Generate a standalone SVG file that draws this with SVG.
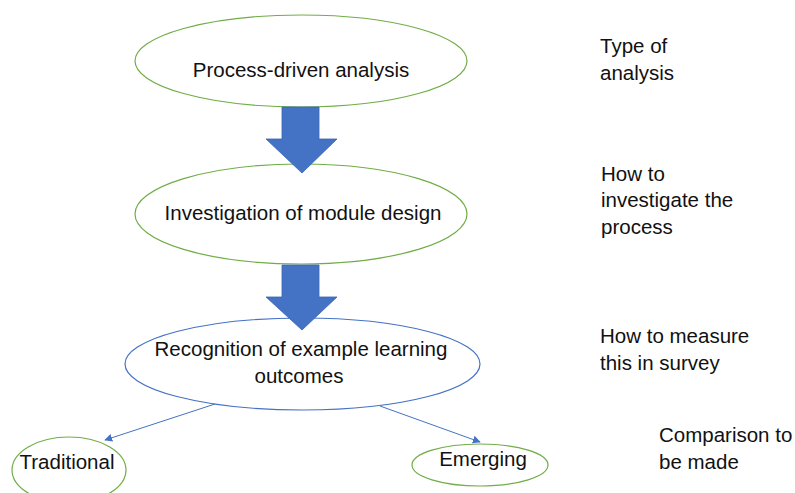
<svg xmlns="http://www.w3.org/2000/svg" width="795" height="493" viewBox="0 0 795 493">
<defs>
<style>
text{font-family:"Liberation Sans","Noto Sans",Arial,sans-serif;font-size:20.5px;fill:#111}
.g{fill:#fff;stroke:#70AD47;stroke-width:1.2}
.b{fill:#fff;stroke:#4472C4;stroke-width:1.2}
.bigarrow{fill:#4472C4;stroke:#3A64B0;stroke-width:0.8}
.conn{stroke:#4472C4;stroke-width:1;fill:none}
.m{text-anchor:middle}
</style>
<marker id="ah" viewBox="0 0 10 10" refX="9" refY="5" markerWidth="8" markerHeight="8" markerUnits="userSpaceOnUse" orient="auto">
<path d="M0,0 L10,5 L0,10 z" fill="#4472C4"/>
</marker>
</defs>
<rect width="795" height="493" fill="#fff"/>
<g id="n1"><ellipse class="g" cx="301" cy="61" rx="166" ry="46"/><text class="m" x="301" y="77">Process-driven analysis</text></g>
<g id="n2"><ellipse class="g" cx="301" cy="214" rx="166" ry="50"/><text class="m" x="303" y="220">Investigation of module design</text></g>
<g id="n3"><ellipse class="b" cx="302.5" cy="364" rx="177.5" ry="46"/><text class="m" x="301" y="356">Recognition of example learning</text><text class="m" x="299" y="383">outcomes</text></g>
<g id="n4"><ellipse class="g" cx="69" cy="470" rx="57" ry="33"/><text class="m" x="67" y="469">Traditional</text></g>
<g id="n5"><ellipse class="g" cx="480" cy="465" rx="68" ry="21"/><text class="m" x="483" y="466">Emerging</text></g>
<g id="labels">
<text x="600" y="53">Type of</text><text x="600" y="80">analysis</text>
<text x="601" y="181">How to</text><text x="601" y="207">investigate the</text><text x="601" y="234">process</text>
<text x="600" y="343">How to measure</text><text x="600" y="370">this in survey</text>
<text x="659" y="442">Comparison to</text><text x="659" y="469">be made</text>
</g>
<g id="connectors">
<path class="bigarrow" d="M282,107 H319 V139 H337 L302,173 L266,139 H282 Z"/>
<path class="bigarrow" d="M282,265 H319 V297 H337 L302,330 L266,297 H282 Z"/>
<line class="conn" x1="215" y1="404" x2="105" y2="440" marker-end="url(#ah)"/>
<line class="conn" x1="380" y1="406" x2="480" y2="442" marker-end="url(#ah)"/>
</g>
</svg>
